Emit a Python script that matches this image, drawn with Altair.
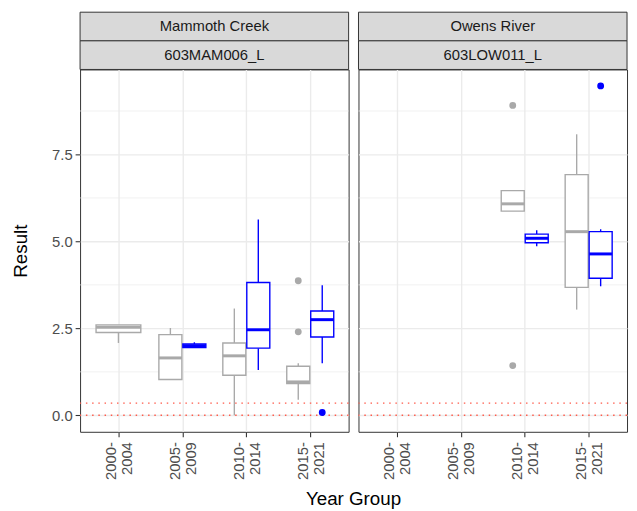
import altair as alt
import pandas as pd
import numpy as np

# ---------------- data ----------------
panels = ["Mammoth Creek", "Owens River"]
stations = ["603MAM006_L", "603LOW011_L"]
year_groups = ["2000-2004", "2005-2009", "2010-2014", "2015-2021"]
series_names = ["Group A", "Group B"]
series_colors = ["#a9a9a9", "#0000ff"]

box_panel = ["Mammoth Creek"] * 7 + ["Owens River"] * 4
box_year = ["2000-2004", "2005-2009", "2005-2009", "2010-2014", "2010-2014",
            "2015-2021", "2015-2021",
            "2010-2014", "2010-2014", "2015-2021", "2015-2021"]
box_series = ["Group A", "Group A", "Group B", "Group A", "Group B", "Group A", "Group B",
              "Group A", "Group B", "Group A", "Group B"]
box_lower = [2.08, 1.03, 1.95, 0.00, 1.30, 0.45, 1.50, 5.87, 4.86, 3.04, 3.71]
box_q1 = [2.38, 1.03, 1.95, 1.15, 1.93, 0.91, 2.25, 5.87, 4.96, 3.68, 3.94]
box_median = [2.53, 1.65, 2.00, 1.71, 2.46, 0.96, 2.75, 6.08, 5.09, 5.28, 4.64]
box_q3 = [2.60, 2.32, 2.05, 2.08, 3.82, 1.41, 3.00, 6.46, 5.21, 6.92, 5.28]
box_upper = [2.60, 2.51, 2.10, 3.07, 5.63, 1.50, 3.74, 6.46, 5.32, 8.08, 5.35]

out_panel = ["Mammoth Creek", "Mammoth Creek", "Mammoth Creek",
             "Owens River", "Owens River", "Owens River"]
out_year = ["2015-2021", "2015-2021", "2015-2021", "2010-2014", "2010-2014", "2015-2021"]
out_series = ["Group A", "Group A", "Group B", "Group A", "Group A", "Group B"]
out_value = [3.87, 2.40, 0.08, 8.91, 1.43, 9.47]

thresholds = [0.0, 0.35]
y_major = [0.0, 2.5, 5.0, 7.5]
y_minor = [1.25, 3.75, 6.25, 8.75]

# ---------------- dodge positions (like position_dodge) ----------------
boxes = pd.DataFrame({
    "panel": box_panel, "year": box_year, "series": box_series,
    "lower": box_lower, "q1": box_q1, "median": box_median,
    "q3": box_q3, "upper": box_upper,
})
boxes["xi"] = boxes["year"].map(lambda v: year_groups.index(v) + 1)
boxes["n"] = boxes.groupby(["panel", "year"])["series"].transform("count")
sidx = boxes["series"].map(lambda s: series_names.index(s))
boxes["xc"] = boxes["xi"] + np.where(boxes["n"] > 1, (sidx - 0.5) * 0.375, 0.0)
half = np.where(boxes["n"] > 1, 0.18, 0.35)
boxes["x0"] = boxes["xc"] - half
boxes["x1"] = boxes["xc"] + half

outs = pd.DataFrame({"panel": out_panel, "year": out_year,
                     "series": out_series, "value": out_value})
outs = outs.merge(boxes[["panel", "year", "series", "xc"]],
                  on=["panel", "year", "series"], how="left")

# ---------------- styling ----------------
W, H = 272, 367
FONT = "Liberation Sans"
xscale = alt.Scale(domain=[0.4, 4.6], nice=False, zero=False)
yscale = alt.Scale(domain=[-0.474, 9.944], nice=False, zero=False)
color = alt.Color("series:N", scale=alt.Scale(domain=series_names, range=series_colors),
                  legend=None)

parts = [yg.split("-") for yg in year_groups]
label_expr = "[" + ",".join(f"['{a}-','{b}']" for a, b in parts) + "][datum.value - 1]"

xaxis = alt.Axis(values=[1, 2, 3, 4], labelExpr=label_expr, labelAngle=270,
                 title=None, grid=True, tickSize=5, labelPadding=5,
                 labelLineHeight=16, labelOffset=-8)


def yaxis_for(show):
    if show:
        return alt.Axis(values=y_major, format=".1f", title="Result", grid=True,
                        tickSize=5, labelPadding=3, titlePadding=21)
    return alt.Axis(values=y_major, labels=False, ticks=False, title=None, grid=True)


def panel(site, station, show_y):
    yaxis = yaxis_for(show_y)
    b = boxes[boxes["panel"] == site]
    o = outs[outs["panel"] == site]

    def X(f):
        return alt.X(f"{f}:Q", scale=xscale, axis=xaxis)

    def Y(f):
        return alt.Y(f"{f}:Q", scale=yscale, axis=yaxis)

    minor = alt.Chart(pd.DataFrame({"v": y_minor})).mark_rule(
        color="#ebebeb", strokeWidth=0.7).encode(y=Y("v"))
    thr = alt.Chart(pd.DataFrame({"v": thresholds})).mark_rule(
        color="#ff5a4a", strokeWidth=1.4, strokeDash=[1.5, 4.8]).encode(y=Y("v"))
    base = alt.Chart(b)
    wlo = base.mark_rule(strokeWidth=1.4).encode(x=X("xc"), y=Y("lower"), y2="q1", stroke=color)
    whi = base.mark_rule(strokeWidth=1.4).encode(x=X("xc"), y=Y("q3"), y2="upper", stroke=color)
    rect = base.mark_rect(fill="white", strokeWidth=1.4).encode(
        x=X("x0"), x2="x1", y=Y("q1"), y2="q3", stroke=color)
    med = base.mark_rule(strokeWidth=3).encode(x=X("x0"), x2="x1", y=Y("median"), stroke=color)
    pts = alt.Chart(o).mark_circle(size=48, opacity=1).encode(
        x=X("xc"), y=Y("value"), fill=color)

    sdf = pd.DataFrame({"site": [site], "station": [station]})
    sbase = alt.Chart(sdf)
    strip1 = sbase.mark_rect(fill="#d9d9d9", stroke="#333333", strokeWidth=1).encode(
        x=alt.value(0), x2=alt.value(W), y=alt.value(-58), y2=alt.value(-29))
    strip2 = sbase.mark_rect(fill="#d9d9d9", stroke="#333333", strokeWidth=1).encode(
        x=alt.value(0), x2=alt.value(W), y=alt.value(-29), y2=alt.value(0))
    t1 = sbase.mark_text(font=FONT, fontSize=15, color="#1a1a1a", baseline="middle").encode(
        text="site:N", x=alt.value(W / 2), y=alt.value(-43.5))
    t2 = sbase.mark_text(font=FONT, fontSize=15, color="#1a1a1a", baseline="middle").encode(
        text="station:N", x=alt.value(W / 2), y=alt.value(-14.5))

    layers = [minor, thr, wlo, whi, rect, med, pts, strip1, strip2, t1, t2]
    if show_y:
        xt = alt.Chart(pd.DataFrame({"t": ["Year Group"]})).mark_text(
            font=FONT, fontSize=19, color="black", baseline="alphabetic", align="center"
        ).encode(text="t:N", x=alt.value(W + 5), y=alt.value(H + 74))
        layers.append(xt)
    return alt.layer(*layers).properties(width=W, height=H)


chart = alt.hconcat(
    panel(panels[0], stations[0], True),
    panel(panels[1], stations[1], False),
    spacing=10, bounds="flush",
).properties(
    padding={"left": 3, "top": 0, "right": 0, "bottom": 0}
).configure_view(
    stroke="#333333", strokeWidth=1
).configure_axis(
    domain=False, gridColor="#ebebeb", gridWidth=1.4,
    tickColor="#333333", tickWidth=1.1,
    labelColor="#4d4d4d", labelFont=FONT, labelFontSize=15,
    titleFont=FONT, titleFontSize=19, titleColor="black", titleFontWeight="normal",
)

chart.save("out.html", embed_options={"renderer": "svg", "actions": False})
